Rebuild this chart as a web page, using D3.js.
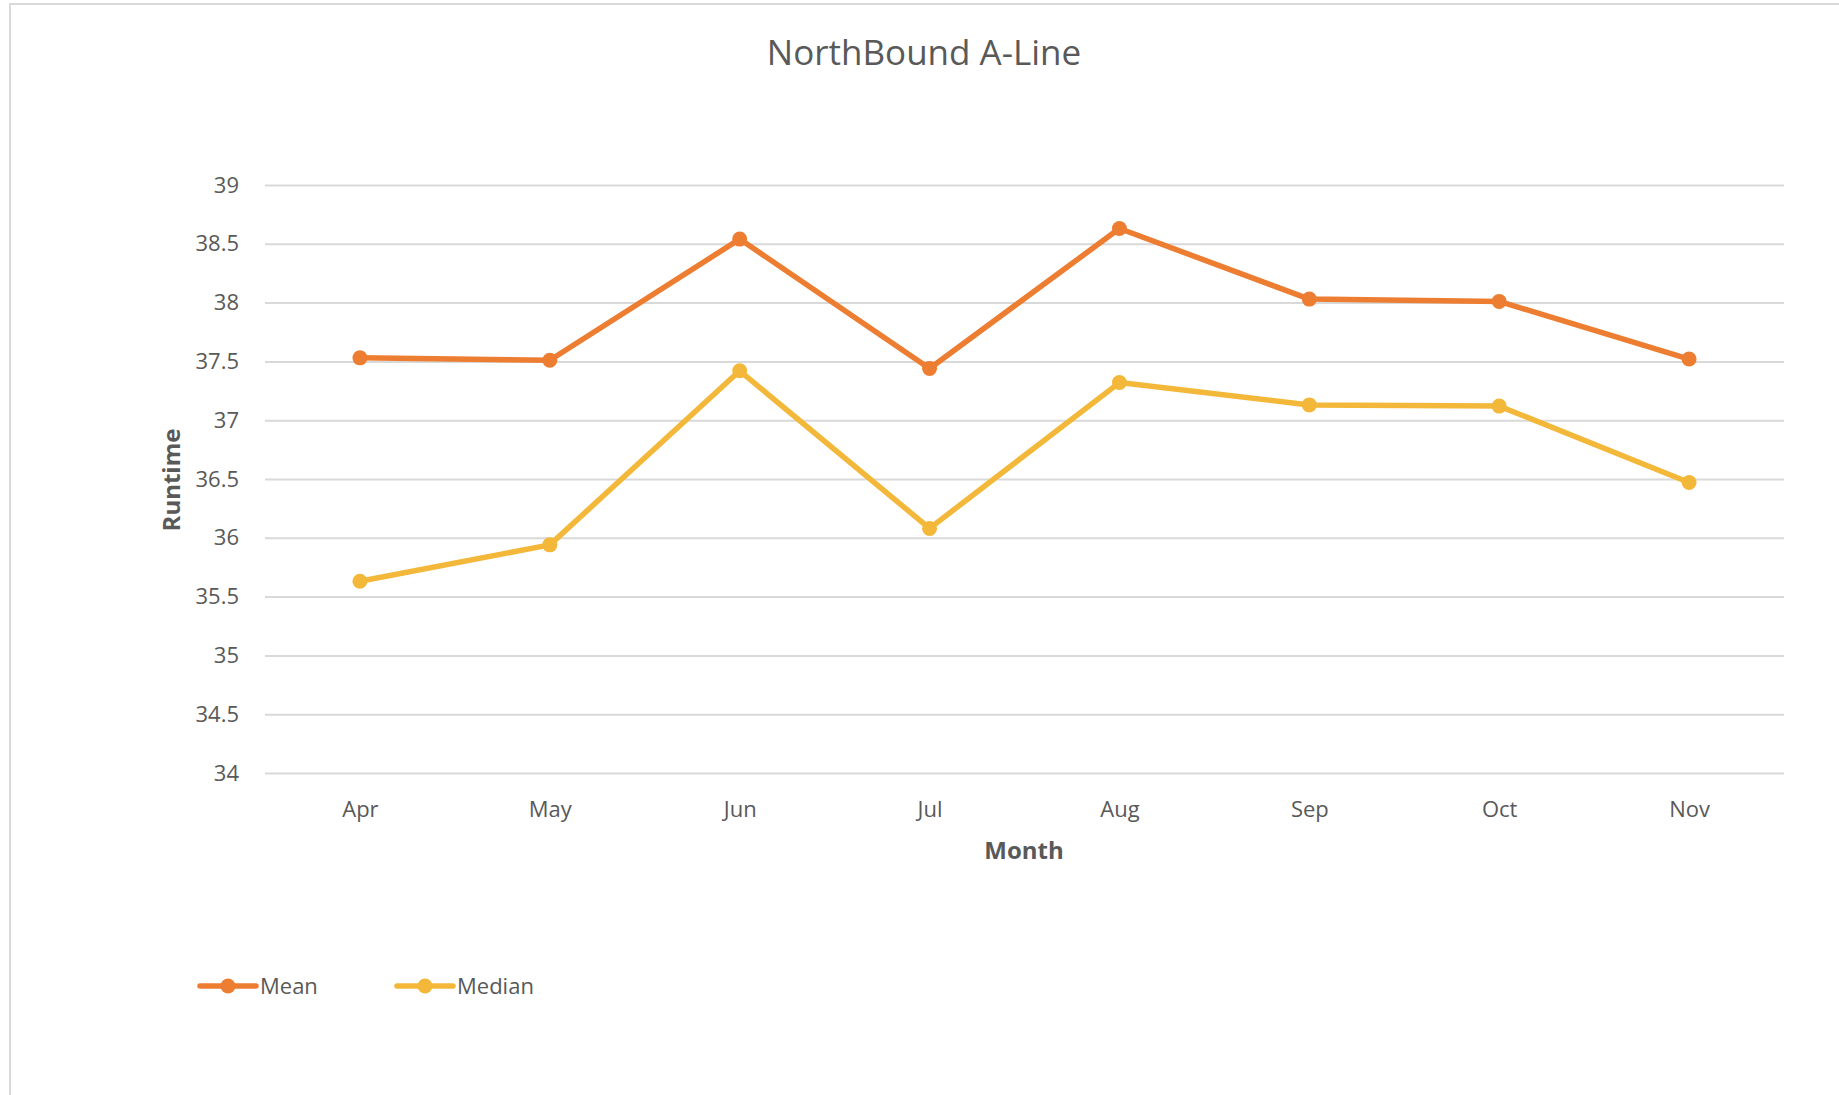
<!DOCTYPE html>
<html>
<head>
<meta charset="utf-8">
<script src="https://cdn.jsdelivr.net/npm/d3@7"></script>
<style>
  body { margin: 0; background: #fff; }
  text { font-family: "Open Sans", "Noto Sans", sans-serif; fill: #595959; }
</style>
</head>
<body>
<div id="wrapper"></div>
<script>
// data
const months = ["Apr", "May", "Jun", "Jul", "Aug", "Sep", "Oct", "Nov"];
const meanValues = [37.53, 37.51, 38.54, 37.44, 38.63, 38.03, 38.01, 37.52];
const medianValues = [35.63, 35.94, 37.42, 36.08, 37.32, 37.13, 37.12, 36.47];
const yTicks = [34, 34.5, 35, 35.5, 36, 36.5, 37, 37.5, 38, 38.5, 39];
const seriesNames = ["Mean", "Median"];
const seriesColors = ["#ED7D31", "#F3B83A"];

function draw() {
  const width = 1839, height = 1095;
  const margin = { top: 185, right: 55, bottom: 322, left: 265 };

  const svg = d3.select("#wrapper").append("svg")
    .attr("width", width)
    .attr("height", height);

  // chart frame
  svg.append("rect")
    .attr("x", 10).attr("y", 4)
    .attr("width", 1840).attr("height", 1100)
    .attr("fill", "none")
    .attr("stroke", "#d9d9d9")
    .attr("stroke-width", 2);

  svg.append("text")
    .attr("x", 924).attr("y", 65)
    .attr("text-anchor", "middle")
    .style("font-size", "35px")
    .text("NorthBound A-Line");

  const x = d3.scalePoint()
    .domain(months)
    .range([margin.left, width - margin.right])
    .padding(0.5);

  const y = d3.scaleLinear()
    .domain([34, 39])
    .range([height - margin.bottom, margin.top]);

  // gridlines + y labels
  const yAxis = svg.append("g")
    .attr("transform", "translate(" + margin.left + ",0)")
    .call(d3.axisLeft(y)
      .tickValues(yTicks)
      .tickSize(-(width - margin.left - margin.right))
      .tickPadding(26)
      .tickFormat(d3.format("")));
  yAxis.select(".domain").remove();
  yAxis.selectAll("line").attr("stroke", "#d9d9d9").attr("stroke-width", 2);
  yAxis.selectAll("text")
    .attr("fill", "#595959")
    .style("font-size", "22px")
    .style("font-family", "'Open Sans', sans-serif");

  // x labels
  const xAxis = svg.append("g")
    .attr("transform", "translate(0," + (height - margin.bottom) + ")")
    .call(d3.axisBottom(x).tickSize(0).tickPadding(28));
  xAxis.select(".domain").remove();
  xAxis.selectAll("text")
    .attr("fill", "#595959")
    .style("font-size", "22px")
    .style("font-family", "'Open Sans', sans-serif");

  svg.append("text")
    .attr("x", 1024).attr("y", 859)
    .attr("text-anchor", "middle")
    .style("font-size", "24px")
    .style("font-weight", "bold")
    .text("Month");

  svg.append("text")
    .attr("transform", "translate(180,480) rotate(-90)")
    .attr("text-anchor", "middle")
    .style("font-size", "24px")
    .style("font-weight", "bold")
    .text("Runtime");

  const line = d3.line()
    .x((d, i) => x(months[i]))
    .y(d => y(d));

  const allSeries = [meanValues, medianValues];
  allSeries.forEach((values, s) => {
    svg.append("path")
      .attr("d", line(values))
      .attr("fill", "none")
      .attr("stroke", seriesColors[s])
      .attr("stroke-width", 5.5)
      .attr("stroke-linejoin", "round");
    svg.append("g")
      .selectAll("circle")
      .data(values)
      .enter()
      .append("circle")
      .attr("cx", (d, i) => x(months[i]))
      .attr("cy", d => y(d))
      .attr("r", 7.5)
      .attr("fill", seriesColors[s]);
  });

  // legend
  const legend = svg.append("g")
    .selectAll("g")
    .data(seriesNames)
    .enter()
    .append("g")
    .attr("transform", (d, i) => "translate(" + (200 + i * 197) + ",986)");
  legend.append("line")
    .attr("x1", 0).attr("x2", 56)
    .attr("stroke", (d, i) => seriesColors[i])
    .attr("stroke-width", 5.5)
    .attr("stroke-linecap", "round");
  legend.append("circle")
    .attr("cx", 28).attr("r", 7.5)
    .attr("fill", (d, i) => seriesColors[i]);
  legend.append("text")
    .attr("x", 60).attr("y", 8)
    .style("font-size", "22px")
    .text(d => d);
}
draw();
</script>
</body>
</html>
